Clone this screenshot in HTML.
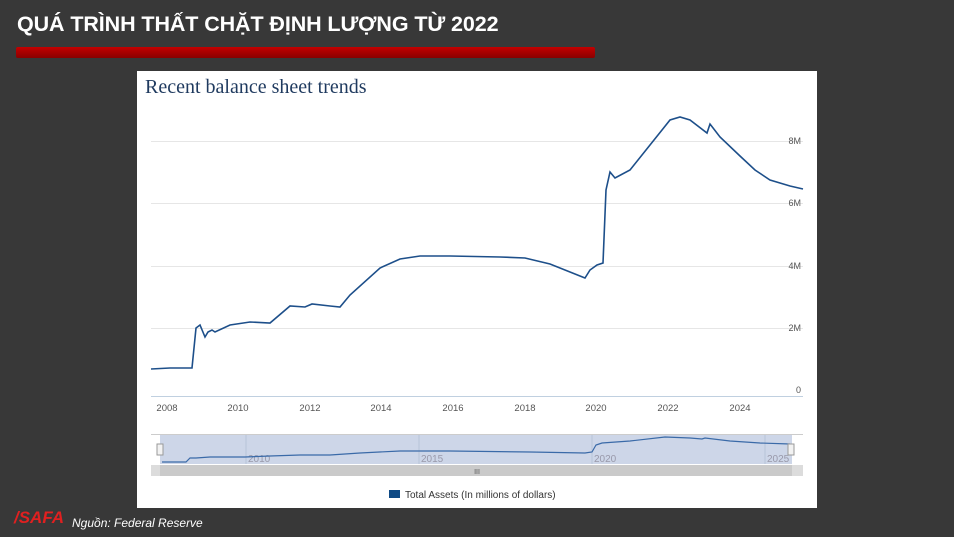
<!DOCTYPE html>
<html><head><meta charset="utf-8"><style>
body{margin:0;width:954px;height:537px;background:#383838;overflow:hidden;font-family:"Liberation Sans",sans-serif;position:relative}
.t{position:absolute;left:17px;top:12px;color:#fff;font-weight:bold;font-size:21.5px;letter-spacing:-0.1px}
.bar{position:absolute;left:16px;top:47px;width:579px;height:11px;border-radius:2px;background:linear-gradient(#c40000,#8a0000)}
.card{position:absolute;left:137px;top:71px;width:680px;height:437px;background:#fff}
.src{position:absolute;left:72px;top:516px;color:#fff;font-style:italic;font-size:12px}
.logo{position:absolute;left:14px;top:508px;color:#e02020;font-weight:bold;font-style:italic;font-size:17px}
</style></head><body>
<div class="t">QUÁ TRÌNH THẤT CHẶT ĐỊNH LƯỢNG TỪ 2022</div>
<div class="bar"></div>
<div class="card"></div>
<svg width="954" height="537" style="position:absolute;left:0;top:0" font-family="Liberation Sans, sans-serif">
<text x="145" y="93" font-family="Liberation Serif, serif" font-size="20" fill="#1f3a5f">Recent balance sheet trends</text>
<g stroke="#e6e6e6" stroke-width="1">
<line x1="151" x2="803" y1="141.5" y2="141.5"/><line x1="151" x2="803" y1="203.5" y2="203.5"/><line x1="151" x2="803" y1="266.5" y2="266.5"/><line x1="151" x2="803" y1="328.5" y2="328.5"/>
</g>
<line x1="151" x2="803" y1="396.5" y2="396.5" stroke="#c0d0e0"/>
<g font-size="9" fill="#555" text-anchor="end"><text x="801" y="144">8M</text><text x="801" y="206">6M</text><text x="801" y="269">4M</text><text x="801" y="331">2M</text><text x="801" y="393">0</text></g>
<g font-size="9.5" fill="#555" text-anchor="middle"><text x="167" y="411">2008</text><text x="238" y="411">2010</text><text x="310" y="411">2012</text><text x="381" y="411">2014</text><text x="453" y="411">2016</text><text x="525" y="411">2018</text><text x="596" y="411">2020</text><text x="668" y="411">2022</text><text x="740" y="411">2024</text></g>
<polyline fill="none" stroke="#1d4f8a" stroke-width="1.6" points="151,369 170,368 192,368 196,328 200,325 205,337 208,332 212,330 215,332 230,325 250,322 270,323 290,306 305,307 312,304 330,306 340,307 350,295 380,268 400,259 420,256 450,256 500,257 525,258 550,264 585,278 590,270 597,265 603,263 606,190 610,172 615,178 630,170 650,145 670,120 680,117 690,120 707,133 710,124 720,137 740,156 755,170 770,180 790,186 803,189"/>
<rect x="151" y="435" width="652" height="29" fill="#fff"/>
<rect x="160" y="435" width="632" height="29" fill="#cdd6e8"/>
<line x1="151" x2="803" y1="434.5" y2="434.5" stroke="#ccc"/>
<g stroke="#b8c4d8"><line x1="246" x2="246" y1="435" y2="464"/><line x1="419" x2="419" y1="435" y2="464"/><line x1="592" x2="592" y1="435" y2="464"/><line x1="765" x2="765" y1="435" y2="464"/></g>
<g font-size="10" fill="#99a" ><text x="248" y="462">2010</text><text x="421" y="462">2015</text><text x="594" y="462">2020</text><text x="767" y="462">2025</text></g>
<polyline fill="none" stroke="#3a6aa8" stroke-width="1.2" points="162,462 186,462 190,458 196,458 210,457 245,457 270,456 300,455 330,455 360,453 400,451 450,451 530,452 585,453 592,452 596,445 602,443 630,441 665,437 690,438 702,439 705,438 730,441 760,443 790,444"/>
<rect x="157" y="444" width="6" height="11" fill="#f2f2f2" stroke="#999"/>
<rect x="788" y="444" width="6" height="11" fill="#f2f2f2" stroke="#999"/>
<rect x="151" y="465" width="652" height="11" fill="#dcdcdc"/>
<rect x="160" y="465" width="632" height="11" fill="#cacaca"/>
<text x="477" y="474" font-size="7" fill="#555" text-anchor="middle">III</text>
<rect x="389" y="490" width="11" height="8" fill="#0f4a85"/>
<text x="405" y="498" font-size="10" fill="#333">Total Assets (In millions of dollars)</text>
</svg>
<div class="logo">/SAFA</div>
<div class="src">Nguồn: Federal Reserve</div>
</body></html>
